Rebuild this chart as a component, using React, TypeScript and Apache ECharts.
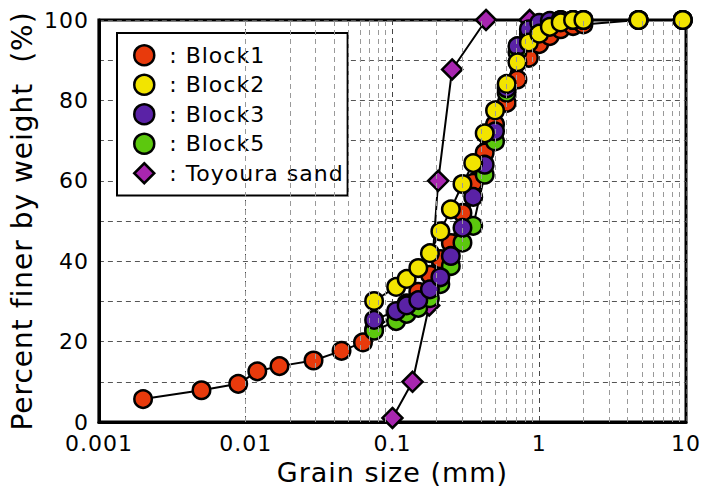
import React, { useEffect, useRef } from "react";
import * as echarts from "echarts";

// Sieve sizes (mm) shared by block samples
const sieveSizes = [0.075, 0.106, 0.125, 0.15, 0.18, 0.212, 0.25, 0.3, 0.355, 0.425, 0.5, 0.6, 0.71, 0.85, 1.0, 1.18, 1.4, 1.7, 2.0, 4.75, 9.5];

// Block1 also has hydrometer (fine) data
const block1Fine = [0.002, 0.005, 0.0089, 0.012, 0.017, 0.029, 0.045, 0.063];
const block1FineY = [5.7, 7.9, 9.5, 12.6, 13.9, 15.3, 17.7, 19.8];
const block1Y = [23, 27, 29.5, 32.4, 36.6, 40.5, 44.5, 52, 59.5, 67, 74, 79.4, 85.2, 90.6, 94, 96, 97.7, 98.5, 98.9, 100, 100];
const block2Y = [30.1, 33.6, 35.6, 38.3, 42.0, 47.4, 52.9, 59.2, 64.4, 71.8, 77.5, 84.1, 89.5, 94.4, 96.6, 98.3, 99.4, 100, 100, 100, 100];
const block3Y = [25.4, 27.6, 29.0, 30.3, 33.0, 36.0, 41.3, 48.3, 56.0, 64.0, 72.3, 83, 93.5, 97.7, 99.3, 99.8, 100, 100, 100, 100, 100];
const block5Y = [22.7, 25.1, 26.9, 28.4, 30.8, 34.3, 38.8, 44.6, 48.8, 61.5, 69.8, 81.9, 92, 96.5, 98.5, 99.5, 100, 100, 100, 100, 100];

const toyouraX = [0.1, 0.137, 0.178, 0.205, 0.255, 0.434, 0.86];
const toyouraY = [1, 10, 29, 60, 87.7, 100, 100];

const xTickLabels = ["0.001", "0.01", "0.1", "1", "10"];
const minorGridX = [
  0.002, 0.003, 0.004, 0.005, 0.006, 0.007, 0.008, 0.009,
  0.02, 0.03, 0.04, 0.05, 0.06, 0.07, 0.08, 0.09,
  0.2, 0.3, 0.4, 0.5, 0.6, 0.7, 0.8, 0.9,
  2, 3, 4, 5, 6, 7, 8, 9,
];

const colors = {
  Block1: "#E83A0C",
  Block2: "#F2E400",
  Block3: "#5A22A6",
  Block5: "#5CC80E",
  Toyoura: "#A826B0",
};

const FONT = "DejaVu Sans";

function zip(xs: number[], ys: number[]) {
  return xs.map((x, i) => [x, ys[i]]);
}

export default function App() {
  const ref = useRef<HTMLDivElement>(null);
  useEffect(() => {
    if (!ref.current) return;
    const chart = echarts.init(ref.current, null, { renderer: "svg" });
    const circleSeries = (name: string, color: string, data: number[][]) => ({
      name,
      type: "line",
      data,
      symbol: "circle",
      symbolSize: 17.5,
      lineStyle: { color: "#000", width: 2 },
      itemStyle: { color, borderColor: "#000", borderWidth: 2.5 },
      emphasis: { disabled: true },
    });
    chart.setOption({
      animation: false,
      grid: {
        left: 96,
        right: 18,
        top: 20,
        bottom: 73,
        show: true,
        borderColor: "#000",
        borderWidth: 3,
      },
      legend: {
        left: 117,
        top: 33,
        orient: "vertical",
        selectedMode: false,
        backgroundColor: "#fff",
        borderColor: "#000",
        borderWidth: 2,
        padding: [11, 18, 11, 16],
        itemGap: 7,
        itemWidth: 20,
        itemHeight: 20,
        formatter: ": {name}",
        textStyle: { fontSize: 22, fontFamily: FONT, color: "#000", padding: [0, 0, 0, 10] },
        data: [
          { name: "Block1", icon: "circle", itemStyle: { color: colors.Block1, borderColor: "#000", borderWidth: 2.5 } },
          { name: "Block2", icon: "circle", itemStyle: { color: colors.Block2, borderColor: "#000", borderWidth: 2.5 } },
          { name: "Block3", icon: "circle", itemStyle: { color: colors.Block3, borderColor: "#000", borderWidth: 2.5 } },
          { name: "Block5", icon: "circle", itemStyle: { color: colors.Block5, borderColor: "#000", borderWidth: 2.5 } },
          { name: "Toyoura sand", icon: "diamond", itemStyle: { color: colors.Toyoura, borderColor: "#000", borderWidth: 2.5 } },
        ],
      },
      xAxis: {
        type: "log",
        logBase: 10,
        min: 0.001,
        max: 10,
        name: "Grain size (mm)",
        nameLocation: "middle",
        nameGap: 32,
        nameTextStyle: { fontSize: 27, fontFamily: FONT, color: "#000" },
        axisLine: { show: true, lineStyle: { color: "#000", width: 3 } },
        axisTick: { show: false },
        axisLabel: {
          margin: 10,
          fontSize: 22,
          lineHeight: 22,
          fontFamily: FONT,
          color: "#000",
          formatter: (v: number) => xTickLabels[Math.round(Math.log10(v)) + 3] ?? "",
        },
        splitLine: { show: true, lineStyle: { color: "#444", type: [5, 4], width: 1 } },
      },
      yAxis: {
        type: "value",
        min: 0,
        max: 100,
        interval: 10,
        name: "Percent finer by weight  (%)",
        nameLocation: "middle",
        nameGap: 62,
        nameTextStyle: { fontSize: 28, fontFamily: FONT, color: "#000" },
        axisLine: { show: true, lineStyle: { color: "#000", width: 3 } },
        axisTick: { show: false },
        axisLabel: {
          margin: 10,
          fontSize: 22,
          lineHeight: 18,
          fontFamily: FONT,
          color: "#000",
          formatter: (v: number) => (v % 20 === 0 ? String(v) : ""),
        },
        splitLine: { show: true, lineStyle: { color: "#555", type: [5, 4], width: 1 } },
      },
      series: [
        {
          name: "grid",
          type: "line",
          data: [],
          silent: true,
          markLine: {
            silent: true,
            symbol: "none",
            label: { show: false },
            lineStyle: { color: "#999", type: [5, 4], width: 1 },
            data: minorGridX.map((x) => ({ xAxis: x })),
          },
        },
        {
          name: "Toyoura sand",
          type: "line",
          data: zip(toyouraX, toyouraY),
          symbol: "diamond",
          symbolSize: 20,
          lineStyle: { color: "#000", width: 2 },
          itemStyle: { color: colors.Toyoura, borderColor: "#000", borderWidth: 2.5 },
          emphasis: { disabled: true },
        },
        circleSeries("Block1", colors.Block1, zip(block1Fine, block1FineY).concat(zip(sieveSizes, block1Y))),
        circleSeries("Block5", colors.Block5, zip(sieveSizes, block5Y)),
        circleSeries("Block3", colors.Block3, zip(sieveSizes, block3Y)),
        circleSeries("Block2", colors.Block2, zip(sieveSizes, block2Y)),
      ],
    });
    return () => chart.dispose();
  }, []);
  return (
    <div
      ref={ref}
      style={{ position: "fixed", left: 0, top: 0, width: 704, height: 495, background: "#fff", letterSpacing: "1px" }}
    />
  );
}
